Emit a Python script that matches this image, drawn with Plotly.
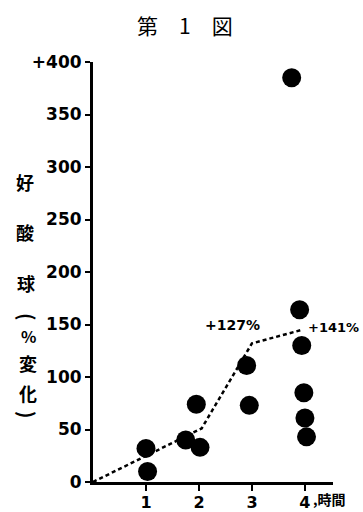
import plotly.graph_objects as go

# data
dot_x = [1.0, 1.03, 1.75, 1.95, 2.02, 2.9, 2.95, 3.75, 3.9, 3.94, 3.98, 4.0, 4.03]
dot_y = [32, 10, 40, 74, 33, 111, 73, 385, 164, 130, 85, 61, 43]
mean_x = [0, 0.95, 2.05, 3.0, 3.95]
mean_y = [0, 24, 51, 132, 145]
y_ticks = [0, 50, 100, 150, 200, 250, 300, 350, 400]
y_ticktext = ["0", "50", "100", "150", "200", "250", "300", "350", "+400"]
x_ticks = [1, 2, 3, 4]
x_ticktext = ["1", "2", "3", "4"]
ylabel_chars = ["好", "酸", "球", "(", "%", "変", "化", ")"]

W, H = 363, 512
L, R, T, B = 93, 30, 62, 30
PW, PH = W - L - R, H - T - B


def px(x):
    return (x - L) / PW


def py(y):
    return (H - B - y) / PH


fig = go.Figure()
fig.add_trace(go.Scatter(x=mean_x, y=mean_y, mode="lines",
                         line=dict(color="black", width=2.5, dash="4px,3px"),
                         hoverinfo="skip", cliponaxis=False))
fig.add_trace(go.Scatter(x=dot_x, y=dot_y, mode="markers",
                         marker=dict(color="black", size=19),
                         cliponaxis=False))

tickfont = dict(family="DejaVu Sans", size=17, color="black", weight="bold")
xtickfont = dict(family="DejaVu Sans", size=16, color="black", weight="bold")
fig.update_layout(
    width=W, height=H,
    margin=dict(l=L, r=R, t=T, b=B, autoexpand=False),
    paper_bgcolor="white", plot_bgcolor="white",
    showlegend=False,
    xaxis=dict(range=[0, 4.53], tickvals=x_ticks, ticktext=x_ticktext,
               showgrid=False, zeroline=False, showline=True, linecolor="black",
               linewidth=3, ticks="outside", ticklen=6, tickwidth=2, tickcolor="black",
               tickfont=xtickfont, automargin=False, ticklabelstandoff=-2),
    yaxis=dict(range=[0, 400], tickvals=y_ticks, ticktext=y_ticktext,
               showgrid=False, zeroline=False, showline=True, linecolor="black",
               linewidth=3, ticks="outside", ticklen=5, tickwidth=2, tickcolor="black",
               tickfont=tickfont, automargin=False),
)


def note(text, x, y, size, family="Noto Sans CJK JP", bold=True, angle=0, xanchor="center"):
    return dict(text=text, xref="paper", yref="paper", x=px(x), y=py(y),
                xanchor=xanchor, yanchor="middle", showarrow=False, textangle=angle,
                font=dict(family=family, size=size, color="black",
                          weight="bold" if bold else "normal"))


ann = [
    note("第　1　図", 185, 25, 21, bold=False),
    note(",時間", 311, 499, 14, xanchor="left"),
    note("+127%", 232, 325, 14, family="DejaVu Sans"),
    note("+141%", 333, 327, 13, family="DejaVu Sans"),
]

char_y = [182, 232, 283, 317, 336, 363, 393, 415]
char_x = [25, 25, 26, 28, 28, 28, 28, 28]
for ch, cx, cy in zip(ylabel_chars, char_x, char_y):
    rot = ch in "()"
    ann.append(note(ch, cx, cy, 20 if rot else (16 if ch == "%" else 18),
                    angle=90 if rot else 0))
fig.update_layout(annotations=ann)

fig.write_html("out.html", config={"displayModeBar": False},
               post_script="document.body.style.margin='0';")
